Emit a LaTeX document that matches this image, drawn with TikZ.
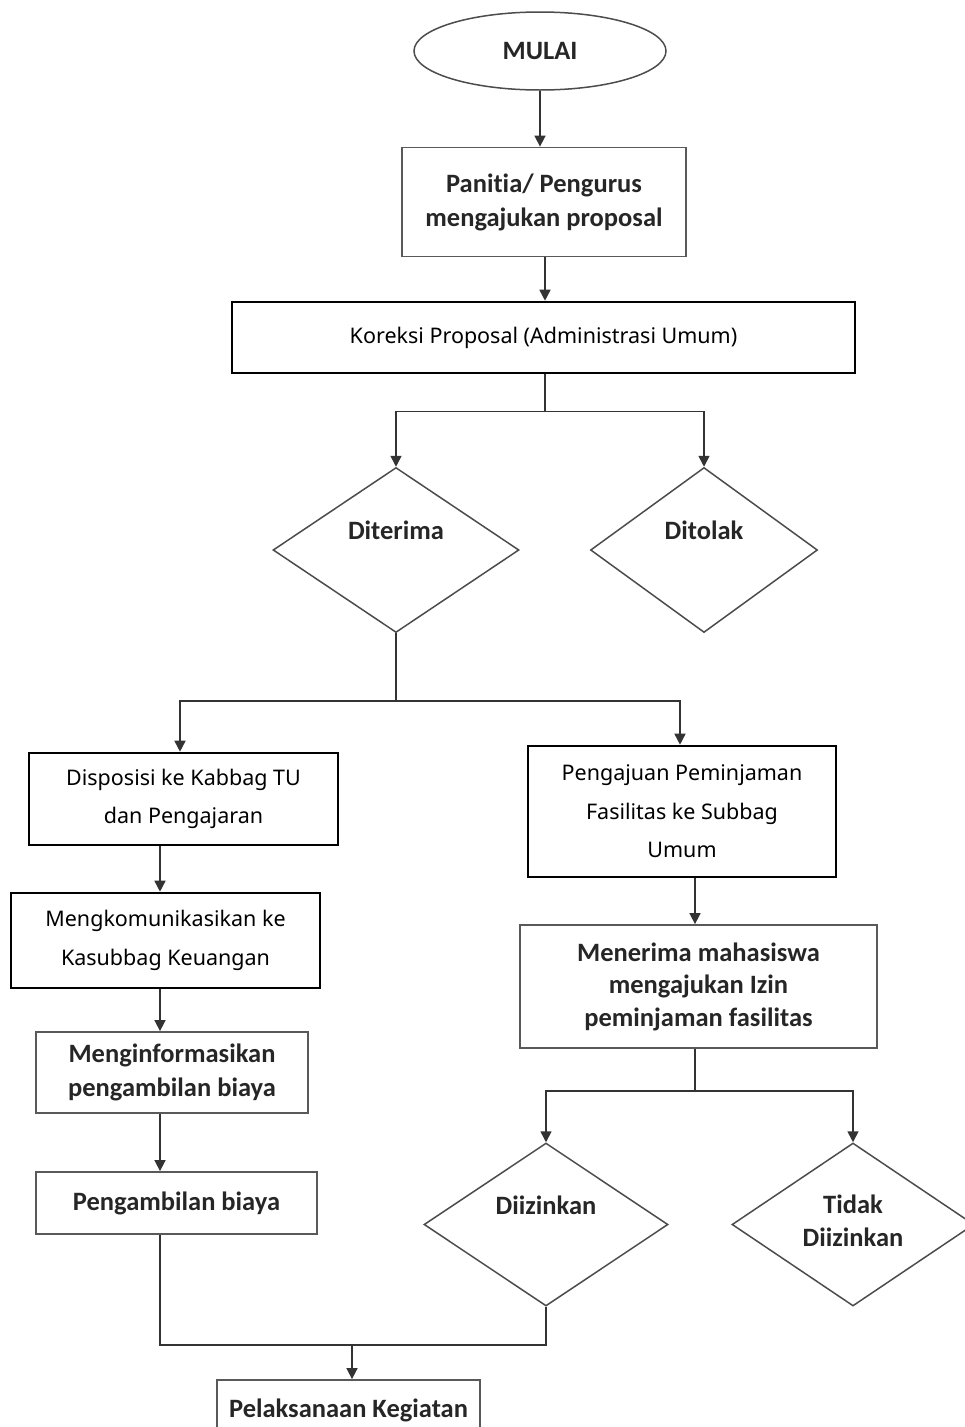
\documentclass[tikz,border=0pt]{standalone}
\usepackage{fontspec}
\setmainfont{Noto Sans}
\newfontfamily\calfont{Carlito}[Ligatures=NoCommon]
\usetikzlibrary{shapes.geometric,arrows.meta}
\tikzset{
  regbox/.style={draw=black, line width=2.6pt, rectangle, align=center,
    font=\fontsize{21.5}{38.5}\selectfont, inner sep=0pt},
  boldbox/.style={draw=black!65, line width=1.8pt, rectangle, align=center, text=black!85,
    font=\calfont\bfseries\fontsize{26.5}{34}\selectfont, inner sep=0pt},
  decision/.style={diamond, draw=black!70, line width=1.5pt, inner sep=0pt},
  dlabel/.style={font=\calfont\bfseries\fontsize{26.5}{33}\selectfont, text=black!85, align=center},
  conn/.style={draw=black!80, line width=1.6pt},
  arr/.style={conn, -{Triangle[length=11pt,width=11pt]}},
}
\begin{document}
\begin{tikzpicture}[x=1pt,y=-1pt]
\useasboundingbox (0,0) rectangle (964,1427);

\node[ellipse, draw=black!70, line width=1.5pt, minimum width=252pt, minimum height=78pt, inner sep=0pt,
      font=\calfont\bfseries\fontsize{26.5}{32}\selectfont, text=black!85] (mulai) at (540,51) {MULAI};

\node[boldbox, minimum width=284pt, minimum height=109pt] (pan) at (544,202) {Panitia/ Pengurus\\mengajukan proposal};

\node[regbox, minimum width=623pt, minimum height=71pt] (kor) at (543.5,337.5) {Koreksi Proposal (Administrasi Umum)};

\node[decision, minimum width=246pt, minimum height=165pt,
      label={[dlabel, yshift=20pt]center:Diterima}] (dit) at (396,550) {};
\node[decision, minimum width=227pt, minimum height=165pt,
      label={[dlabel, yshift=20pt]center:Ditolak}] (tol) at (704,550) {};

\node[regbox, minimum width=309pt, minimum height=92pt] (disp) at (183.5,799) {Disposisi ke Kabbag TU\\dan Pengajaran};
\node[regbox, minimum width=308pt, minimum height=131pt] (peng) at (682,811.5) {Pengajuan Peminjaman\\Fasilitas ke Subbag\\Umum};

\node[regbox, minimum width=309pt, minimum height=95pt] (mk) at (165.5,940.5) {Mengkomunikasikan ke\\Kasubbag Keuangan};
\node[boldbox, minimum width=272pt, minimum height=81pt] (minf) at (172,1072.5) {Menginformasikan\\pengambilan biaya};
\node[boldbox, minimum width=281pt, minimum height=62pt] (ambil) at (176.5,1203) {Pengambilan biaya};

\node[boldbox, minimum width=357pt, minimum height=123pt, font=\calfont\bfseries\fontsize{26.5}{32.5}\selectfont] (men) at (698.5,986.5) {Menerima mahasiswa\\mengajukan Izin\\peminjaman fasilitas};

\node[decision, minimum width=244pt, minimum height=163pt,
      label={[dlabel, yshift=19pt]center:Diizinkan}] (diz) at (546,1224.5) {};
\node[decision, minimum width=242pt, minimum height=163pt,
      label={[dlabel, yshift=4pt]center:Tidak\\Diizinkan}] (tdz) at (853,1224.5) {};

\node[boldbox, minimum width=263pt, minimum height=60pt] (pel) at (348.5,1410) {Pelaksanaan Kegiatan};

\coordinate (m) at (352,1345);

% connectors
\draw[arr] (mulai.south) -- (mulai.south |- pan.north);
\draw[arr] ([xshift=1pt]pan.south) -- ([xshift=1pt]pan.south |- kor.north);
\draw[arr] ([xshift=1.5pt]kor.south) -- ++(0,37) -| (dit.north);
\draw[arr] ([xshift=1.5pt]kor.south) ++(0,37) -| (tol.north);

\draw[arr] (dit.south) -- ++(0,68) -| ([xshift=-3.5pt]disp.north);
\draw[arr] (dit.south) ++(0,68) -| ([xshift=-2pt]peng.north);

\draw[arr] ([xshift=-23.5pt]disp.south) -- ([xshift=-23.5pt]disp.south |- mk.north);
\draw[arr] ([xshift=-5.5pt]mk.south) -- ([xshift=-5.5pt]mk.south |- minf.north);
\draw[arr] ([xshift=-12pt]minf.south) -- ([xshift=-12pt]minf.south |- ambil.north);

\draw[arr] ([xshift=13pt]peng.south) -- ([xshift=13pt]peng.south |- men.north);
\draw[arr] ([xshift=-3.5pt]men.south) -- ++(0,42) -| (diz.north);
\draw[arr] ([xshift=-3.5pt]men.south) ++(0,42) -| (tdz.north);

\draw[conn] ([xshift=-16.5pt]ambil.south) |- (m) -| (diz.south);
\draw[arr] (m) -- (m |- pel.north);
\end{tikzpicture}
\end{document}
